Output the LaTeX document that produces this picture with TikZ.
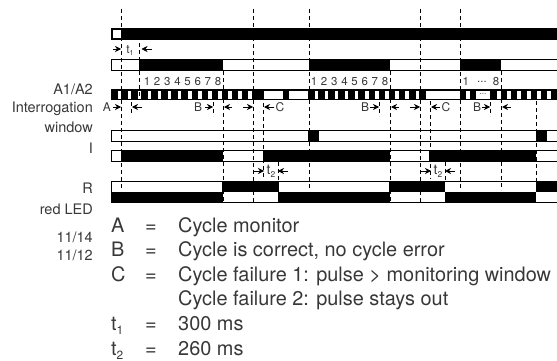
\documentclass[tikz,border=0pt]{standalone}
\usepackage{fontspec}
\setmainfont{TeX Gyre Heros}
\usetikzlibrary{arrows.meta}
\definecolor{txt}{gray}{0.22}
\tikzset{
  rail/.style={draw=black, line width=0.9pt},
  blk/.style={fill=black},
  cyc/.style={draw=black, dashed, dash pattern=on 4pt off 3pt, line width=0.6pt},
  pin/.style={-{Stealth[length=6pt,width=6pt]}, line width=0.6pt, black},
  sig/.style={anchor=base east, font=\fontsize{14.5}{16}\selectfont, text=txt, inner sep=0pt},
  leg/.style={anchor=base west, font=\fontsize{19.9}{22}\selectfont, text=txt, inner sep=0pt},
  tick/.style={anchor=base, font=\fontsize{11.5}{13}\selectfont, text=txt, inner sep=0pt},
  mini/.style={anchor=center, font=\fontsize{12}{14}\selectfont, text=txt, inner sep=0pt},
  subt/.style={anchor=center, font=\fontsize{14}{16}\selectfont, text=txt, inner sep=0pt}
}
\newcommand{\chanbar}[2]{\draw[rail] (557,#1) -| (111.5,#2) -- (557,#2);}
\begin{document}
\begin{tikzpicture}[x=1pt,y=-1pt]
  \useasboundingbox (0,0) rectangle (557,361);
  % supply bar
  \fill[blk] (111,28) rectangle (557,40);
  \fill[white] (113,30) rectangle (121,38);
  % second bar
  \chanbar{59.5}{70}
  \foreach \a/\b in {139/223,309/390,460/501}
    \fill[blk] (\a,59.5) rectangle (\b,70);
  % pulse train
  \fill[blk] (111,89) rectangle (557,100);
  \foreach \i in {0,...,13}
    \fill[white] ({117.8+10.03*\i},91) rectangle ({121.3+10.03*\i},98.5);
  \foreach \i in {0,...,10}
    \fill[white] ({314.5+10.1*\i},91) rectangle ({318+10.1*\i},98.5);
  \foreach \i in {0,...,5}
    \fill[white] ({496.5+10.1*\i},91) rectangle ({500.5+10.1*\i},98.5);
  \foreach \a/\b in {264/283,289/308,426/460,466/470,476/490}
    \fill[white] (\a,91) rectangle (\b,98.5);
  \node[tick, font=\fontsize{8}{9}\selectfont] (gapdots) at (483,94) {...};
  % window bar
  \chanbar{130.5}{141}
  \foreach \a/\b in {308/319,536/547}
    \fill[blk] (\a,130.5) rectangle (\b,141);
  % I bar
  \chanbar{150.5}{161}
  \foreach \a/\b in {121/223,263/390,429/536}
    \fill[blk] (\a,150.5) rectangle (\b,161);
  % R bars
  \draw[rail] (557,181) -| (111.5,202) -- (557,202);
  \foreach \a/\b in {222/279,389/445,536/557}
    \fill[blk] (\a,181) rectangle (\b,191.5);
  \foreach \a/\b in {111/223,278/390,445/536}
    \fill[blk] (\a,191.5) rectangle (\b,202.4);
  % cycle lines
  \foreach \x/\s/\e in {121/9/190,139.5/43/96,253/9/203,309/9/190,420/9/203,460/9/190,
      223/71/203,390/71/203,501/71/190,263/103/179,430/101/179,536/101/190,
      131.7/102/114,213/102/116,379/102/116,490/102/116,278/162/181,445/162/181}
    \draw[cyc] (\x,\s) -- (\x,\e);
  % t1
  \coordinate (t1a) at (113,49);
  \coordinate (t1b) at (121,49);
  \coordinate (t1c) at (151.5,49);
  \coordinate (t1d) at (141.5,49);
  \draw[pin] (t1a) -- (t1b);
  \draw[pin] (t1c) -- (t1d);
  \node[mini] (tone) at (130,50) {t\raisebox{-2pt}{\scalebox{.6}{1}}};
  % counts
  \foreach \lab [count=\i from 0] in {1,2,3,4,5,6,7,8} {
    \node[tick] (na\i) at ({147+10.15*\i},85) {\lab};
    \node[tick] (nb\i) at ({314+10.15*\i},85) {\lab};
  }
  \node[tick] (nc1) at (465.7,85) {1};
  \node[tick] (nc2) at (482,83) {...};
  \node[tick] (nc3) at (496,85) {8};
  % arrows at the pulse train
  \foreach \a/\b in {113/121,142/132,205/213,232/224,243/253,274/264,
      370/379,399/391,410/420,440/431,482/490,511/502}
    \draw[pin] (\a,107) -- (\b,107);
  \foreach \n/\x/\t in {la/107/A,lb/198/B,lc/280/C,ld/365/B,le/446/C,lf/477/B}
    \node[mini] (\n) at (\x,107) {\t};
  % t2
  \foreach \a/\b in {253/264,288/278,420/431,455/445}
    \draw[pin] (\a,171) -- (\b,171);
  \node[subt] (ttwoa) at (271,171) {t\raisebox{-3pt}{\scalebox{.6}{2}}};
  \node[subt] (ttwob) at (438,171) {t\raisebox{-3pt}{\scalebox{.6}{2}}};
  % channel labels
  \node[sig] (a1a2) at (93,95) {A1/A2};
  \node[sig] (inter) at (93,113) {Interrogation};
  \node[sig] (window) at (93,132) {window};
  \node[sig] (chi) at (93,153) {I};
  \node[sig] (chr) at (93,193) {R};
  \node[sig] (led) at (93,214) {red LED};
  \node[sig] (c1114) at (93,242) {11/14};
  \node[sig] (c1112) at (93,260) {11/12};
  % legend
  \foreach \n/\y/\k/\t in {ma/232/A/Cycle monitor,mb/256.7/B/{Cycle is correct, no cycle error},
      mc/281.7/C/{Cycle failure 1: pulse > monitoring window},
      me/330/t\raisebox{-4pt}{\scalebox{.6}{1}}/300 ms,mf/355/t\raisebox{-4pt}{\scalebox{.6}{2}}/260 ms} {
    \node[leg] (\n k) at (111,\y) {\k};
    \node[leg] (\n q) at (145,\y) {=};
    \node[leg] (\n t) at (178,\y) {\t};
  }
  \node[leg] (md) at (178,305) {Cycle failure 2: pulse stays out};
\end{tikzpicture}
\end{document}
